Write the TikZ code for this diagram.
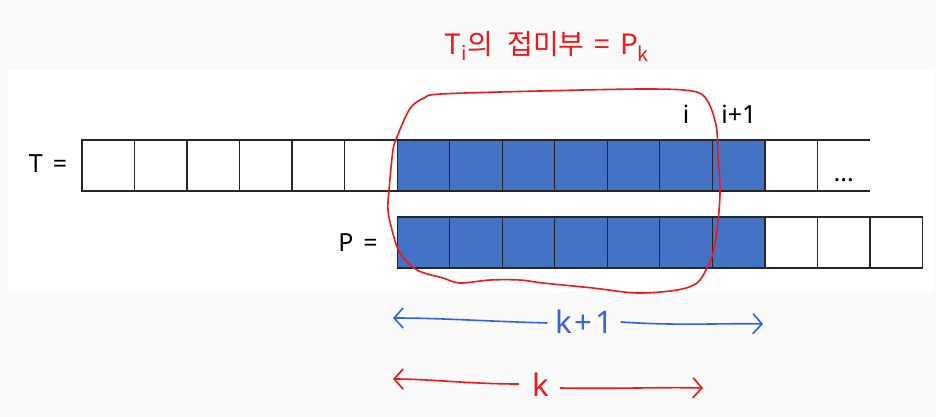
\documentclass[tikz,border=0pt]{standalone}
\usepackage{fontspec}
\setmainfont{Noto Sans}
\newfontfamily\krfont{Noto Sans CJK KR}
\usetikzlibrary{arrows.meta}
\definecolor{cellblue}{HTML}{4472C4}
\definecolor{bgout}{HTML}{FAFAFA}
\definecolor{penred}{HTML}{F01818}
\definecolor{penblue}{HTML}{2F62E8}
\tikzset{
  cell/.style={draw=black!85, line width=1.3pt, minimum width=52.53pt, minimum height=51pt, inner sep=0pt, outer sep=0pt},
  bluecell/.style={cell, fill=cellblue},
  whitecell/.style={cell, fill=white},
  lbl/.style={font=\fontsize{25}{28}\selectfont, inner sep=0pt},
  hand/.style={font=\fontsize{31}{34}\selectfont, inner sep=0pt},
  barb/.style={-{Straight Barb[length=9pt,width=20pt]}, line width=1.6pt, line cap=round}
}
\begin{document}
\begin{tikzpicture}[x=1pt,y=-1pt]
\useasboundingbox (0,0) rectangle (936,417);
\fill[bgout] (0,0) rectangle (936,417);
\fill[white] (8,70) rectangle (933,291);
% T row
\foreach \j in {0,...,5} {
  \node[whitecell] (t\j) at ({82+52.53*\j+26.265},165.5) {};
}
\foreach \j in {6,...,12} {
  \node[bluecell] (t\j) at ({82+52.53*\j+26.265},165.5) {};
}
\node[whitecell] (t13) at ({82+52.53*13+26.265},165.5) {};
\node[cell, draw=none] (t14) at ({82+52.53*14+26.265},165.5) {};
\draw[black!85, line width=1.3pt] (t14.north west) -- (t14.north east);
\draw[black!85, line width=1.3pt] (t14.south west) -- (t14.south east);
\node[lbl, anchor=base] (dots) at (t14.center |- 0,181) {...};
% P row
\foreach \j in {6,...,12} {
  \node[bluecell] (p\j) at ({82+52.53*\j+26.265},242.5) {};
}
\foreach \j in {13,...,15} {
  \node[whitecell] (p\j) at ({82+52.53*\j+26.265},242.5) {};
}
% labels
\node[lbl] (tlab) at (48,164) {T\hspace{10pt}=};
\node[lbl] (plab) at (358,243) {P\hspace{10pt}=};
\node[lbl] (ilab) at (686,114) {i};
\node[lbl] (i1lab) at (739,114) {i+1};
% title
\node[hand, text=penred, font=\krfont\fontsize{28}{31}\selectfont] (title) at (547,46) {T\textsubscript{i}의\hspace{14pt}접미부\hspace{10pt}=\hspace{10pt}P\textsubscript{k}};
% red closed curve
\draw[penred, line width=1.6pt] plot[smooth cycle, tension=0.55] coordinates {
 (424,98) (441,94) (540,91) (644,89) (692,91) (707,100) (716,125) (718,153)
 (720,193) (717,230) (713,253) (707,268) (697,283) (677,290) (637,293) (593,288)
 (543,283) (520,280) (490,280) (460,283) (443,278) (417,270) (400,253) (392,230)
 (388,210) (389,190) (393,150) (397,137) (405,118) (412,106)};
% blue dimension
\node[hand, text=penblue] (kp1) at (584,322) {k\hspace{3pt}+\hspace{3pt}1};
\coordinate (bl) at (393,318);
\coordinate (br) at (763,324);
\draw[barb, penblue] (kp1.west) ++(-8,1) .. controls (480,321) and (440,318) .. (bl);
\draw[barb, penblue] (kp1.east) ++(8,0) .. controls (680,326) and (720,323) .. (br);
% red dimension
\node[hand, text=penred] (klab) at (541,385) {k};
\coordinate (rl) at (393,379);
\coordinate (rr) at (703,388);
\draw[barb, penred] (klab.west) ++(-14,-1) .. controls (470,384) and (430,379) .. (rl);
\draw[barb, penred] (klab.east) ++(11,3) .. controls (620,389) and (660,387) .. (rr);
\end{tikzpicture}
\end{document}
